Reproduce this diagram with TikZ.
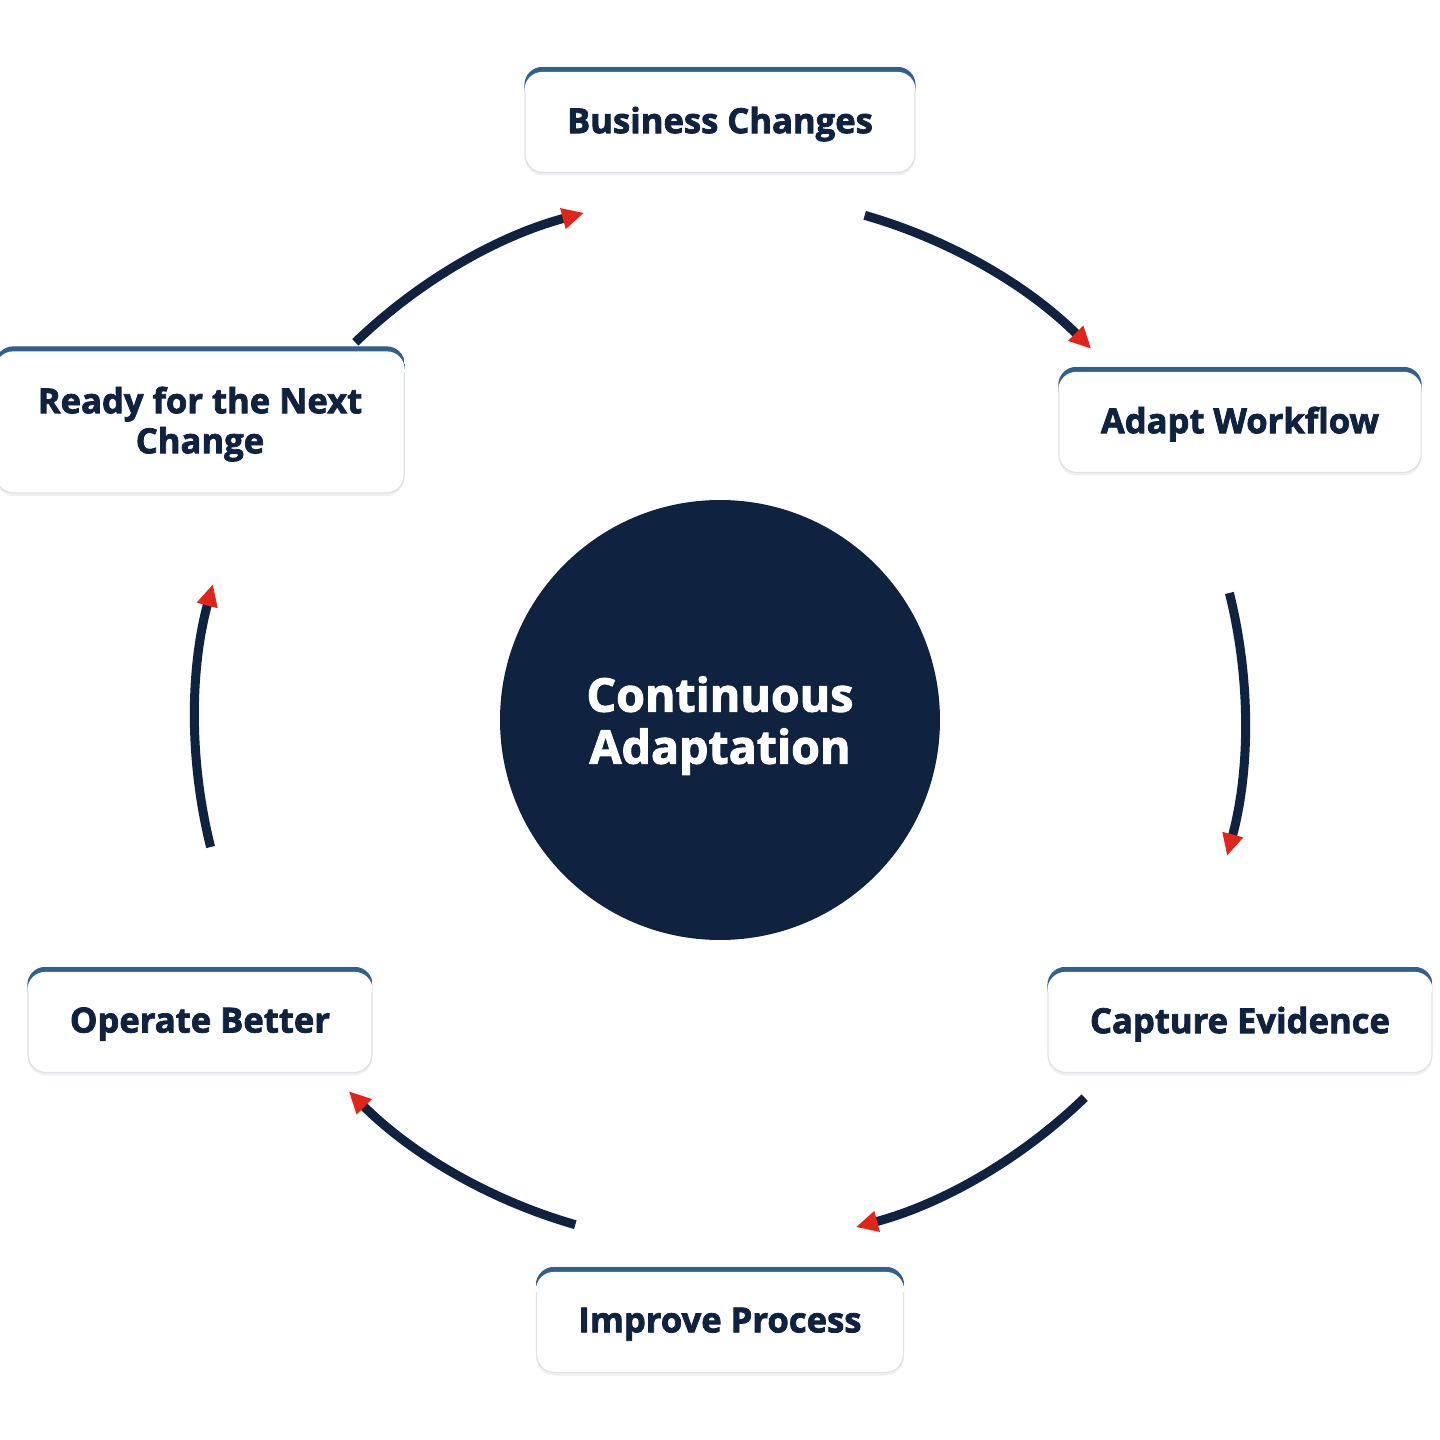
\documentclass[tikz,border=0pt]{standalone}
\usepackage{fontspec}
\setmainfont{Open Sans}[BoldFeatures={FakeBold=2.2}]
\usetikzlibrary{arrows.meta,shadows}
\definecolor{navy}{HTML}{0F2340}
\definecolor{capblue}{HTML}{2E6190}
\definecolor{tipred}{HTML}{E0261B}
\definecolor{edgegray}{HTML}{DDE2E8}
\tikzset{
  stepbox/.style={rectangle, rounded corners=18pt, fill=white, draw=edgegray,
    line width=1.2pt, minimum height=105pt, inner xsep=42pt, inner ysep=0pt,
    align=center, font=\fontsize{34.6}{40}\selectfont\bfseries, text=navy, text depth=0pt,
    drop shadow={shadow xshift=0pt, shadow yshift=-3pt, opacity=0.06, fill=black}},
  hub/.style={circle, fill=navy, minimum size=440pt, inner sep=0pt, text=white,
    align=center, font=\fontsize{46.5}{52}\selectfont\bfseries, text depth=0pt},
  flow/.style={draw=navy, line width=9pt, -{Triangle[length=22pt,width=20pt,color=tipred]}},
}
\newcommand{\boxcap}[1]{%
  \begin{scope}
    \clip[rounded corners=18pt] (#1.south west) rectangle (#1.north east);
    \clip ([yshift=-25pt]#1.north west) rectangle (#1.north east);
    \fill[capblue] ([yshift=-25pt]#1.north west) rectangle (#1.north east);
    \fill[white, rounded corners=18pt] (#1.south west) rectangle ([yshift=-5pt]#1.north east);
  \end{scope}}
\begin{document}
\begin{tikzpicture}
\useasboundingbox[fill=white] (-720pt,-720pt) rectangle (720pt,720pt);
\coordinate (c) at (0pt,0pt);
\node[hub] (center) at (c) {Continuous\\Adaptation};

\node[stepbox] (business) at (0pt,600pt) {Business Changes};
\node[stepbox] (adapt) at (520pt,300pt) {Adapt Workflow};
\node[stepbox] (capture) at (520pt,-300pt) {Capture Evidence};
\node[stepbox] (improve) at (0pt,-600pt) {Improve Process};
\node[stepbox] (operate) at (-520pt,-300pt) {Operate Better};
\node[stepbox, minimum height=146pt] (ready) at (-520pt,300pt) {Ready for the Next\\Change};
\boxcap{business}\boxcap{adapt}\boxcap{capture}\boxcap{improve}\boxcap{operate}\boxcap{ready}

\draw[flow] ([shift={(74:525pt)}]c) arc[start angle=74, end angle=45, radius=525pt];
\draw[flow] ([shift={(14:525pt)}]c) arc[start angle=14, end angle=-15, radius=525pt];
\draw[flow] ([shift={(-46:525pt)}]c) arc[start angle=-46, end angle=-75, radius=525pt];
\draw[flow] ([shift={(-106:525pt)}]c) arc[start angle=-106, end angle=-135, radius=525pt];
\draw[flow] ([shift={(-166:525pt)}]c) arc[start angle=-166, end angle=-195, radius=525pt];
\draw[flow] ([shift={(134:525pt)}]c) arc[start angle=134, end angle=105, radius=525pt];
\end{tikzpicture}
\end{document}
